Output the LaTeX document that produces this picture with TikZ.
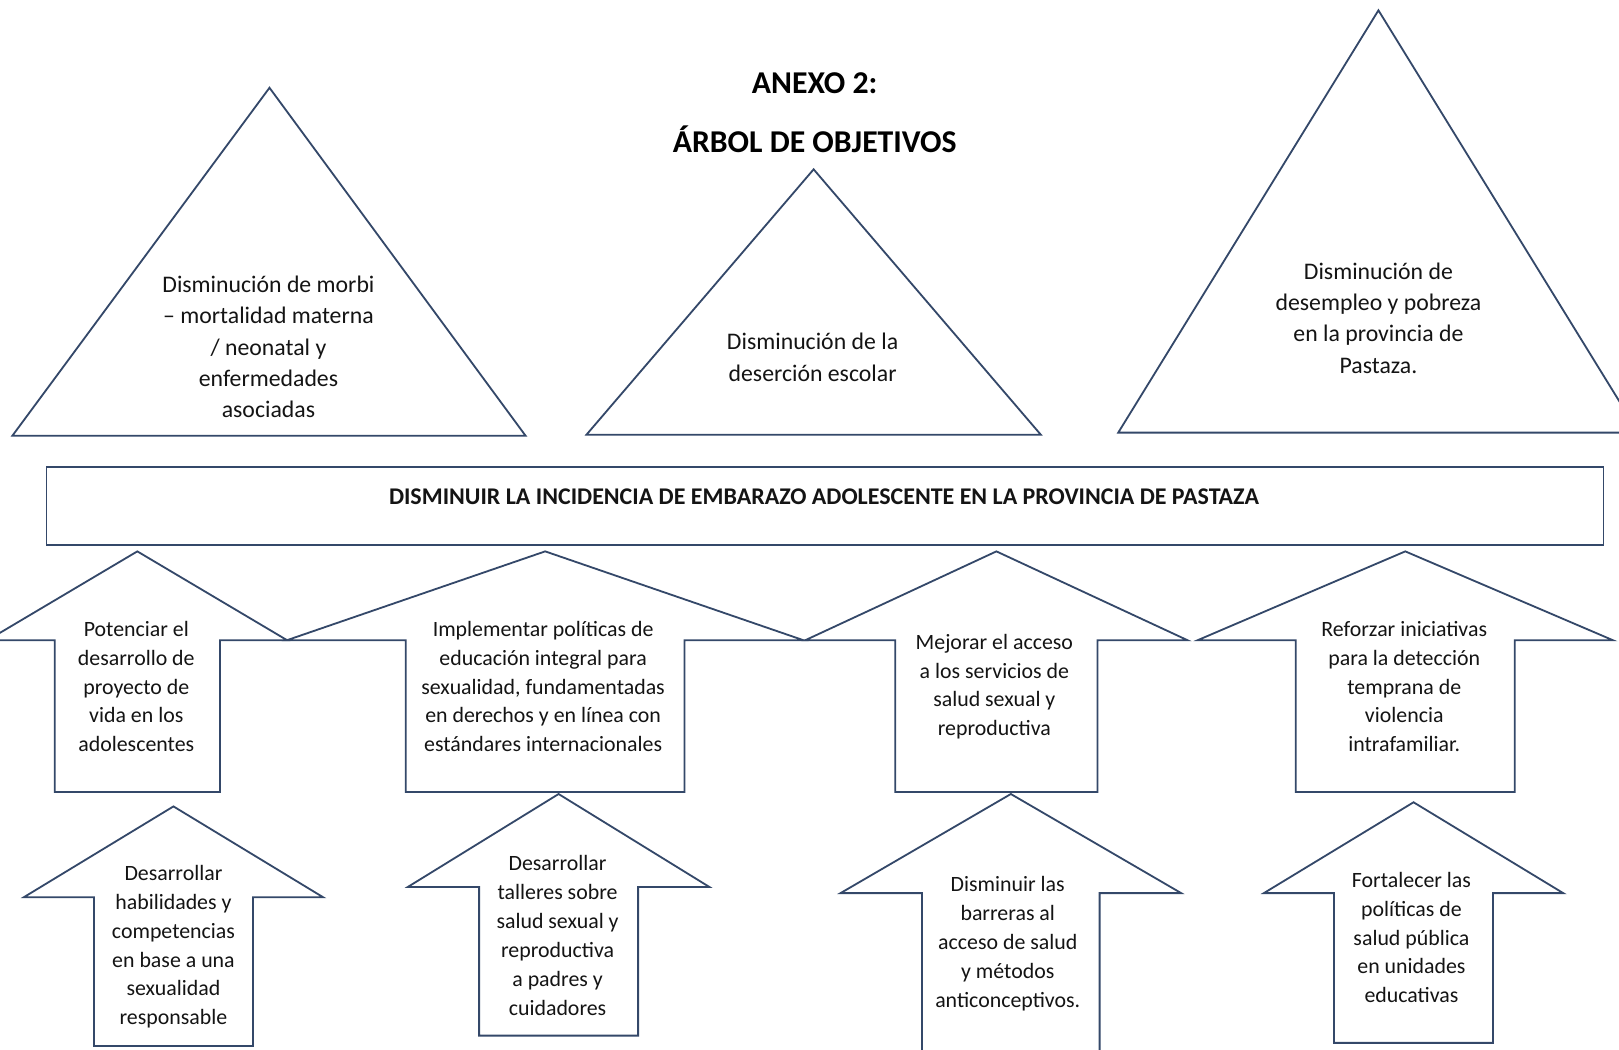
\documentclass[tikz,border=0pt]{standalone}
\usepackage{fontspec}
\setmainfont{Carlito}
\usepackage{tikz}
\usetikzlibrary{positioning}
\usepackage{xcolor}
\definecolor{OutlineBlue}{RGB}{52,72,105}
\definecolor{TextGray}{RGB}{20,20,20}

% block arrow pointing up: centre x, tip y, head half width, head base y, shaft half width, bottom y
\newcommand{\uparrowshape}[6]{%
  \draw[shapeline] (#1,#2) -- ({#1+#3},#4) -- ({#1+#5},#4) -- ({#1+#5},#6)
    -- ({#1-#5},#6) -- ({#1-#5},#4) -- ({#1-#3},#4) -- cycle;}

\begin{document}
\begin{tikzpicture}[x=0.2mm, y=-0.2mm,
    shapeline/.style={draw=OutlineBlue, line width=1pt, fill=white, line join=miter},
    titletext/.style={font=\bfseries\fontsize{17.5}{33}\selectfont, text=black},
    efftext/.style={align=center, font=\fontsize{13.1}{17.3}\selectfont, text=TextGray},
    armtext/.style={align=center, font=\fontsize{12.05}{15.9}\selectfont, text=TextGray},
    goaltext/.style={font=\bfseries\fontsize{13.2}{15}\selectfont, text=TextGray}
]
    \clip (0,0) rectangle (1568,1016);
    \fill[white] (0,0) rectangle (1568,1016);

    % effects
    \draw[shapeline] (261,85) -- (509,422) -- (12,422) -- cycle;
    \draw[shapeline] (788,164) -- (1008,421) -- (568,421) -- cycle;
    \draw[shapeline] (1335,10) -- (1587,419) -- (1083,419) -- cycle;

    % purpose
    \draw[shapeline] (45,452) rectangle (1553,528);

    % means
    \uparrowshape{133}{534}{145}{620}{80}{767}
    \uparrowshape{528}{534}{250}{620}{135}{767}
    \uparrowshape{965}{534}{185}{620}{98}{767}
    \uparrowshape{1361}{534}{201}{620}{106}{767}
    \uparrowshape{168}{781}{145}{869}{77}{1013}
    \uparrowshape{541}{769}{146}{859}{77}{1003}
    \uparrowshape{979}{769}{165}{865}{86}{1040}
    \uparrowshape{1369}{777}{145}{865}{77}{1010}

    \node[titletext] (anexo) at (789,81) {ANEXO 2:};
    \node[titletext] (arbol) at (789,135) {ÁRBOL DE OBJETIVOS};

    \node[efftext] (morbi) at (260,336) {Disminución de morbi\\– mortalidad materna\\/ neonatal y\\enfermedades\\asociadas};
    \node[efftext] (desercion) at (787,346) {Disminución de la\\deserción escolar};
    \node[efftext] (desempleo) at (1335,308) {Disminución de\\desempleo y pobreza\\en la provincia de\\Pastaza.};

    \node[goaltext] (proposito) at (798,481) {DISMINUIR LA INCIDENCIA DE EMBARAZO ADOLESCENTE EN LA PROVINCIA DE PASTAZA};

    \node[armtext] (proyecto) at (132,665) {Potenciar el\\desarrollo de\\proyecto de\\vida en los\\adolescentes};
    \node[armtext] (educacion) at (526,665) {Implementar políticas de\\educación integral para\\sexualidad, fundamentadas\\en derechos y en línea con\\estándares internacionales};
    \node[armtext] (servicios) at (963,665) {Mejorar el acceso\\a los servicios de\\salud sexual y\\reproductiva};
    \node[armtext] (violencia) at (1360,665) {Reforzar iniciativas\\para la detección\\temprana de\\violencia\\intrafamiliar.};

    \node[armtext] (habilidades) at (168,917) {Desarrollar\\habilidades y\\competencias\\en base a una\\sexualidad\\responsable};
    \node[armtext] (talleres) at (540,906) {Desarrollar\\talleres sobre\\salud sexual y\\reproductiva\\a padres y\\cuidadores};
    \node[armtext] (barreras) at (976,914) {Disminuir las\\barreras al\\acceso de salud\\y métodos\\anticonceptivos.};
    \node[armtext] (politicas) at (1367,908) {Fortalecer las\\políticas de\\salud pública\\en unidades\\educativas};
\end{tikzpicture}
\end{document}
